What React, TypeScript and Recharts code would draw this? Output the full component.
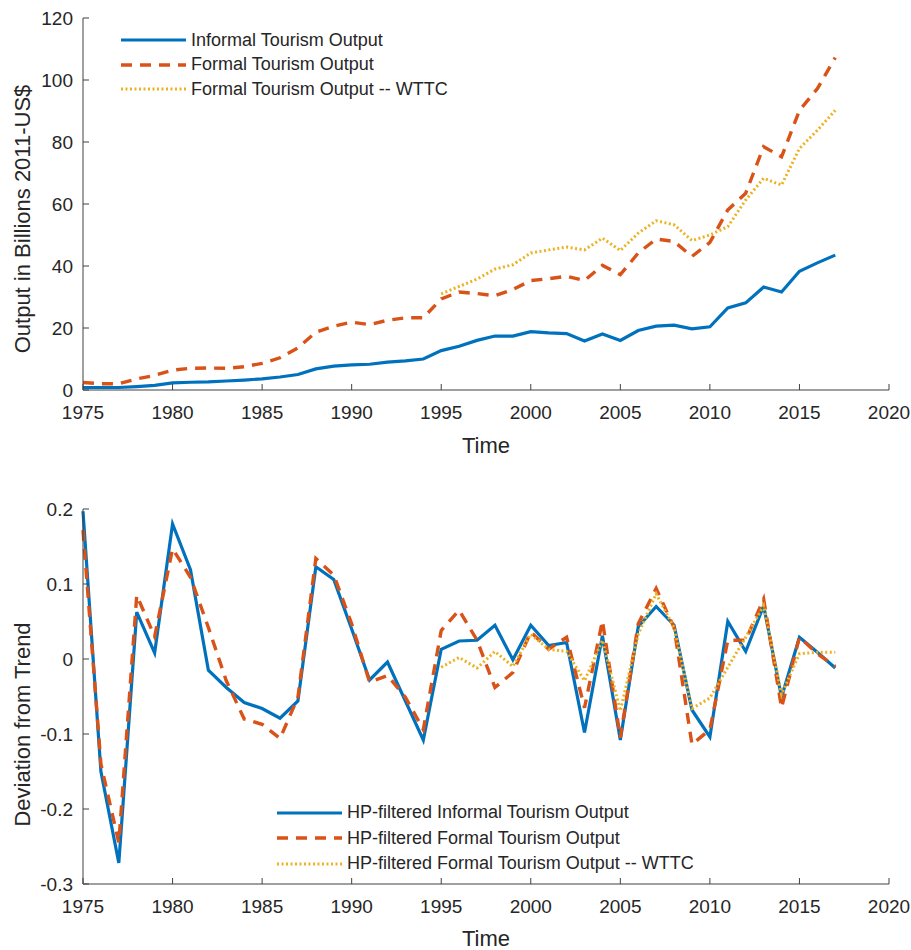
import React from 'react';
import { LineChart, Line, XAxis, YAxis, Legend, Label } from 'recharts';

// years covered by all series
const years = [
  1975, 1976, 1977, 1978, 1979, 1980, 1981, 1982, 1983, 1984,
  1985, 1986, 1987, 1988, 1989, 1990, 1991, 1992, 1993, 1994,
  1995, 1996, 1997, 1998, 1999, 2000, 2001, 2002, 2003, 2004,
  2005, 2006, 2007, 2008, 2009, 2010, 2011, 2012, 2013, 2014,
  2015, 2016, 2017,
];

// output levels, billions 2011-US$
const informalOutput = [
  0.8, 0.8, 0.8, 1.1, 1.5, 2.3, 2.5, 2.6, 2.9, 3.2,
  3.6, 4.2, 5.0, 6.8, 7.7, 8.1, 8.3, 9.0, 9.4, 10.0,
  12.7, 14.1, 16.0, 17.4, 17.4, 18.8, 18.4, 18.2, 15.8, 18.1,
  16.0, 19.2, 20.6, 20.9, 19.7, 20.4, 26.5, 28.1, 33.2, 31.6,
  38.3, 41.0, 43.5,
];
const formalOutput = [
  2.4, 2.0, 2.0, 3.6, 4.7, 6.4, 7.0, 7.1, 7.0, 7.5,
  8.6, 10.4, 13.6, 18.6, 20.6, 21.9, 21.1, 22.5, 23.3, 23.3,
  29.4, 31.6, 31.1, 30.4, 32.4, 35.3, 35.9, 36.7, 35.3, 40.2,
  37.2, 44.2, 48.7, 47.9, 43.1, 47.6, 58.1, 63.5, 78.5, 75.2,
  90.2, 97.2, 107.2,
];
const wttcOutput = [
  null, null, null, null, null, null, null, null, null, null,
  null, null, null, null, null, null, null, null, null, null,
  31.0, 33.4, 35.8, 39.0, 40.4, 44.2, 45.2, 46.1, 45.2, 49.0,
  45.0, 50.6, 54.6, 53.3, 48.2, 50.0, 52.7, 61.3, 68.3, 66.1,
  77.9, 83.8, 90.2,
];

// HP-filtered deviations from trend
const hpInformal = [
  0.197, -0.15, -0.272, 0.0625, 0.008, 0.18, 0.119, -0.015, -0.038, -0.058,
  -0.066, -0.079, -0.056, 0.123, 0.106, 0.04, -0.028, -0.004, -0.056, -0.108,
  0.013, 0.024, 0.025, 0.045, -0.001, 0.045, 0.018, 0.022, -0.098, 0.031,
  -0.108, 0.043, 0.07, 0.045, -0.068, -0.104, 0.05, 0.01, 0.071, -0.051,
  0.029, 0.009, -0.012,
];
const hpFormal = [
  0.172, -0.14, -0.245, 0.085, 0.03, 0.147, 0.109, 0.042, -0.029, -0.08,
  -0.087, -0.106, -0.051, 0.134, 0.112, 0.047, -0.031, -0.022, -0.051, -0.094,
  0.038, 0.065, 0.025, -0.038, -0.018, 0.036, 0.013, 0.029, -0.065, 0.051,
  -0.105, 0.047, 0.094, 0.042, -0.114, -0.094, 0.025, 0.025, 0.08, -0.065,
  0.029, 0.007, -0.01,
];
const hpWttc = [
  null, null, null, null, null, null, null, null, null, null,
  null, null, null, null, null, null, null, null, null, null,
  -0.011, 0.002, -0.012, 0.01, -0.01, 0.033, 0.013, 0.01, -0.029, 0.025,
  -0.069, 0.033, 0.087, 0.042, -0.066, -0.052, -0.011, 0.029, 0.071, -0.047,
  0.007, 0.009, 0.009,
];

const yearTicks = [1975, 1980, 1985, 1990, 1995, 2000, 2005, 2010, 2015, 2020];
const levelTicks = [0, 20, 40, 60, 80, 100, 120];
const deviationTicks = [-0.3, -0.2, -0.1, 0, 0.1, 0.2];

const levelData = years.map((year, i) => ({
  year,
  informal: informalOutput[i],
  formal: formalOutput[i],
  wttc: wttcOutput[i],
}));

const hpData = years.map((year, i) => ({
  year,
  informal: hpInformal[i],
  formal: hpFormal[i],
  wttc: hpWttc[i],
}));

const BLUE = '#0072BD';
const ORANGE = '#D95319';
const YELLOW = '#EDB120';
const TEXT = '#262626';
const AXIS = '#404040';
const FONT = '"Liberation Sans", Arial, Helvetica, sans-serif';

const levelSeries = [
  { key: 'informal', name: 'Informal Tourism Output', color: BLUE, width: 3.2, dash: undefined },
  { key: 'formal', name: 'Formal Tourism Output', color: ORANGE, width: 3.4, dash: '11 8' },
  { key: 'wttc', name: 'Formal Tourism Output -- WTTC', color: YELLOW, width: 3, dash: '2 2.5' },
];

const hpSeries = [
  { key: 'informal', name: 'HP-filtered Informal Tourism Output', color: BLUE, width: 3.2, dash: undefined },
  { key: 'formal', name: 'HP-filtered Formal Tourism Output', color: ORANGE, width: 3.4, dash: '11 8' },
  { key: 'wttc', name: 'HP-filtered Formal Tourism Output -- WTTC', color: YELLOW, width: 3, dash: '2 2.5' },
];

// legend rows follow the series order, not recharts' sorted payload
const makeLegend = (series: any[], rowH: number) => ({ payload }: any) => (
  <div style={{ fontFamily: FONT, fontSize: 18, color: TEXT }}>
    {series.map((s) => {
      const entry = (payload || []).find((p: any) => p.value === s.name);
      return (
        <div key={s.key} style={{ display: 'flex', alignItems: 'center', height: rowH, whiteSpace: 'nowrap' }}>
          <svg width={65} height={10} style={{ marginRight: 5, display: 'block' }}>
            <line x1={0} y1={5} x2={65} y2={5} stroke={entry ? entry.color : s.color} strokeWidth={s.width} strokeDasharray={s.dash} />
          </svg>
          <span>{s.name}</span>
        </div>
      );
    })}
  </div>
);

const YTitle = ({ viewBox, text, shift }: any) => {
  const cx = viewBox.x + 22;
  const cy = viewBox.y + viewBox.height / 2 + shift;
  return (
    <text
      x={cx}
      y={cy}
      transform={`rotate(-90 ${cx} ${cy})`}
      textAnchor="middle"
      dominantBaseline="central"
      fill={TEXT}
      fontSize={22}
      fontFamily={FONT}
    >
      {text}
    </text>
  );
};

const tickStyle = { fill: TEXT, fontSize: 19, fontFamily: FONT };

const App: React.FC = () => {
  return (
    <div style={{ position: 'absolute', left: 0, top: 0, width: 911, height: 950, background: '#fff' }}>
      <LineChart width={911} height={470} data={levelData} margin={{ top: 18, right: 22, left: 0, bottom: 0 }}>
        <XAxis
          dataKey="year"
          type="number"
          domain={[1975, 2020]}
          ticks={yearTicks}
          interval={0}
          height={80}
          tickSize={-6}
          tickMargin={22}
          tick={tickStyle}
          axisLine={{ stroke: AXIS }}
          tickLine={{ stroke: AXIS }}
        >
          <Label value="Time" position="insideBottom" offset={17} fill={TEXT} fontSize={22} fontFamily={FONT} />
        </XAxis>
        <YAxis
          type="number"
          domain={[0, 120]}
          ticks={levelTicks}
          interval={0}
          width={83}
          tickSize={-6}
          tickMargin={16}
          tick={tickStyle}
          axisLine={{ stroke: AXIS }}
          tickLine={{ stroke: AXIS }}
        >
          <Label content={(props: any) => <YTitle {...props} text="Output in Billions 2011-US$" shift={15} />} />
        </YAxis>
        <Legend
          content={makeLegend(levelSeries, 24.5)}
          layout="vertical"
          align="center"
          verticalAlign="middle"
          wrapperStyle={{ left: 121, top: 27.75, width: 'auto' }}
        />
        {levelSeries.map((s) => (
          <Line
            key={s.key}
            dataKey={s.key}
            name={s.name}
            stroke={s.color}
            strokeWidth={s.width}
            strokeDasharray={s.dash}
            dot={false}
            activeDot={false}
            isAnimationActive={false}
          />
        ))}
      </LineChart>
      <LineChart width={911} height={480} data={hpData} margin={{ top: 39, right: 22, left: 0, bottom: 0 }}>
        <XAxis
          dataKey="year"
          type="number"
          domain={[1975, 2020]}
          ticks={yearTicks}
          interval={0}
          height={66}
          tickSize={-6}
          tickMargin={22}
          tick={tickStyle}
          axisLine={{ stroke: AXIS }}
          tickLine={{ stroke: AXIS }}
        >
          <Label value="Time" position="insideBottom" offset={4} fill={TEXT} fontSize={22} fontFamily={FONT} />
        </XAxis>
        <YAxis
          type="number"
          domain={[-0.3, 0.2]}
          ticks={deviationTicks}
          interval={0}
          width={83}
          tickSize={-6}
          tickMargin={16}
          tick={tickStyle}
          axisLine={{ stroke: AXIS }}
          tickLine={{ stroke: AXIS }}
        >
          <Label content={(props: any) => <YTitle {...props} text="Deviation from Trend" shift={28} />} />
        </YAxis>
        <Legend
          content={makeLegend(hpSeries, 25.5)}
          layout="vertical"
          align="center"
          verticalAlign="middle"
          wrapperStyle={{ left: 277, top: 330, width: 'auto' }}
        />
        {hpSeries.map((s) => (
          <Line
            key={s.key}
            dataKey={s.key}
            name={s.name}
            stroke={s.color}
            strokeWidth={s.width}
            strokeDasharray={s.dash}
            dot={false}
            activeDot={false}
            isAnimationActive={false}
          />
        ))}
      </LineChart>
    </div>
  );
};

export default App;
